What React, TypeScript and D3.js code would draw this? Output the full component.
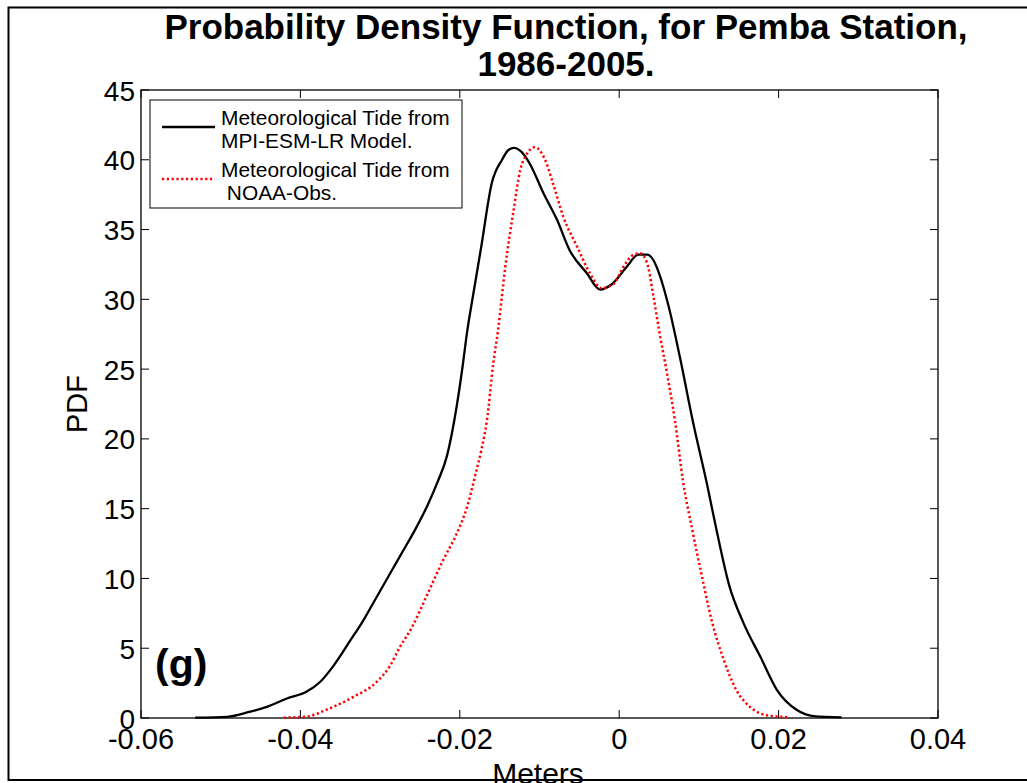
import React from "react";
import * as d3 from "d3";

// Kernel density estimates of meteorological tide (m), Pemba station 1986-2005
const modelX = [
  -0.0532, -0.0492, -0.0463, -0.0442, -0.0417, -0.0392, -0.0375, -0.0359, -0.0338, -0.0321,
  -0.0305, -0.029, -0.0273, -0.0256, -0.024, -0.0228, -0.0216, -0.0204, -0.0196, -0.0191,
  -0.0183, -0.0173, -0.016, -0.0147, -0.0139, -0.0132, -0.012, -0.0112, -0.0095, -0.0078,
  -0.0062, -0.0041, -0.0024, -0.0009, 0.0009, 0.0024, 0.0035, 0.0043, 0.0051, 0.0062,
  0.0076, 0.0093, 0.011, 0.0122, 0.0138, 0.0156, 0.0177, 0.0198, 0.0223, 0.0244, 0.0279,
];
const modelPdf = [
  0.02, 0.08, 0.45, 0.8, 1.4, 1.9, 2.6, 3.7, 5.5, 7.0,
  8.6, 10.1, 11.8, 13.5, 15.3, 16.9, 18.8, 22.3, 25.4, 27.6,
  30.4, 33.8, 38.3, 40.0, 40.7, 40.85, 40.4, 39.7, 37.6, 35.7,
  33.5, 31.9, 30.7, 31.1, 32.3, 33.2, 33.2, 32.8, 31.7, 29.5,
  25.9, 21.1, 16.8, 13.5, 9.5, 6.8, 4.4, 2.0, 0.57, 0.14, 0.05,
];

const obsX = [
  -0.0421, -0.0392, -0.0367, -0.0334, -0.0304, -0.0288, -0.0275, -0.026, -0.0242, -0.0221,
  -0.0204, -0.0191, -0.0181, -0.0173, -0.0166, -0.0158, -0.0152, -0.0143, -0.0133, -0.0124,
  -0.0116, -0.0106, -0.0093, -0.0083, -0.007, -0.0053, -0.0037, -0.0022, -0.0007, 0.0005,
  0.0018, 0.0026, 0.0035, 0.0043, 0.005, 0.006, 0.007, 0.008, 0.0092, 0.0104,
  0.0116, 0.0131, 0.0147, 0.0164, 0.0185, 0.0214,
];
const obsPdf = [
  0.02, 0.1, 0.6, 1.5, 2.6, 3.7, 5.1, 6.5, 8.7, 11.3,
  13.2, 15.1, 17.3, 19.2, 21.3, 25.4, 27.8, 32.3, 36.2, 39.3,
  40.4, 40.9, 40.0, 38.3, 35.9, 33.8, 31.9, 30.8, 31.1, 32.3,
  33.2, 33.3, 32.6, 30.2, 27.8, 24.7, 21.3, 17.0, 13.4, 10.1,
  7.0, 4.2, 2.0, 0.8, 0.2, 0.05,
];

const xTicks = [-0.06, -0.04, -0.02, 0, 0.02, 0.04];
const yTicks = [0, 5, 10, 15, 20, 25, 30, 35, 40, 45];

const titleLines = ["Probability Density Function, for Pemba Station,", "1986-2005."];
const legendEntries = [
  { lines: ["Meteorological Tide from", "MPI-ESM-LR Model."], color: "#000000", dash: "none" },
  { lines: ["Meteorological Tide from", " NOAA-Obs."], color: "#ff0000", dash: "2.2,2.6" },
];

const W = 1027;
const H = 783;
const FONT = "'Liberation Sans', Arial, Helvetica, sans-serif";

export default function App() {
  const left = 141;
  const right = 938;
  const top = 90;
  const bottom = 718;

  const x = d3.scaleLinear().domain([-0.06, 0.04]).range([left, right]);
  const y = d3.scaleLinear().domain([0, 45]).range([bottom, top]);

  const line = d3
    .line<[number, number]>()
    .x((d) => x(d[0]))
    .y((d) => y(d[1]))
    .curve(d3.curveMonotoneX);

  const modelPath = line(modelX.map((v, i) => [v, modelPdf[i]] as [number, number])) || "";
  const obsPath = line(obsX.map((v, i) => [v, obsPdf[i]] as [number, number])) || "";

  const tickLen = 8;
  const fmtX = (v: number) => (v === 0 ? "0" : d3.format(".2f")(v).replace("−", "-"));

  // legend layout
  const lgX = 150;
  const lgY = 100;
  const lgW = 312;
  const lgH = 108;
  const entryBase = [125, 177];

  return (
    <svg
      width={W}
      height={H}
      viewBox={`0 0 ${W} ${H}`}
      style={{ position: "absolute", left: 0, top: 0, display: "block", background: "#fff" }}
    >
      <rect x={0} y={0} width={W} height={H} fill="#fff" />

      {/* title */}
      {titleLines.map((t, i) => (
        <text
          key={t}
          x={566}
          y={39 + i * 37}
          textAnchor="middle"
          fontFamily={FONT}
          fontWeight="bold"
          fontSize={35}
          fill="#000"
        >
          {t}
        </text>
      ))}

      {/* axes box */}
      <rect x={left} y={top} width={right - left} height={bottom - top} fill="none" stroke="#000" strokeWidth={1.3} />

      {/* x ticks, bottom and top */}
      {xTicks.map((v) => (
        <g key={`xt${v}`}>
          <line x1={x(v)} x2={x(v)} y1={bottom} y2={bottom - tickLen} stroke="#000" strokeWidth={1} />
          <line x1={x(v)} x2={x(v)} y1={top} y2={top + tickLen} stroke="#000" strokeWidth={1} />
          <text x={x(v)} y={749} textAnchor="middle" fontFamily={FONT} fontSize={29} fill="#000">
            {fmtX(v)}
          </text>
        </g>
      ))}

      {/* y ticks, left and right */}
      {yTicks.map((v) => (
        <g key={`yt${v}`}>
          <line x1={left} x2={left + tickLen} y1={y(v)} y2={y(v)} stroke="#000" strokeWidth={1} />
          <line x1={right} x2={right - tickLen} y1={y(v)} y2={y(v)} stroke="#000" strokeWidth={1} />
          <text x={135} y={y(v) + 10.5} textAnchor="end" fontFamily={FONT} fontSize={28} fill="#000">
            {v}
          </text>
        </g>
      ))}

      {/* axis labels */}
      <text
        transform={`translate(87,404) rotate(-90)`}
        textAnchor="middle"
        fontFamily={FONT}
        fontSize={29}
        fill="#000"
      >
        PDF
      </text>
      <text x={538} y={784} textAnchor="middle" fontFamily={FONT} fontSize={30} fill="#000">
        Meters
      </text>

      {/* figure frame, drawn over the clipped axis label */}
      <rect x={8.5} y={7.5} width={1030} height={772.5} fill="none" stroke="#000" strokeWidth={2} />

      {/* curves */}
      <path d={modelPath} fill="none" stroke="#000" strokeWidth={2.3} strokeLinejoin="round" />
      <path d={obsPath} fill="none" stroke="#ff0000" strokeWidth={2.5} strokeDasharray="2.2,2.6" />

      {/* panel tag */}
      <text x={155} y={678} fontFamily={FONT} fontWeight="bold" fontSize={41} fill="#000">
        (g)
      </text>

      {/* legend */}
      <rect x={lgX} y={lgY} width={lgW} height={lgH} fill="#fff" stroke="#000" strokeWidth={1} />
      {legendEntries.map((e, i) => (
        <g key={`lg${i}`}>
          <line
            x1={162}
            x2={215}
            y1={entryBase[i] + 2}
            y2={entryBase[i] + 2}
            stroke={e.color}
            strokeWidth={2.5}
            strokeDasharray={e.dash}
          />
          {e.lines.map((t, j) => (
            <text
              key={j}
              x={221}
              y={entryBase[i] + j * 23}
              fontFamily={FONT}
              fontSize={20.9}
              fill="#000"
              style={{ whiteSpace: "pre" }}
            >
              {t}
            </text>
          ))}
        </g>
      ))}
    </svg>
  );
}
